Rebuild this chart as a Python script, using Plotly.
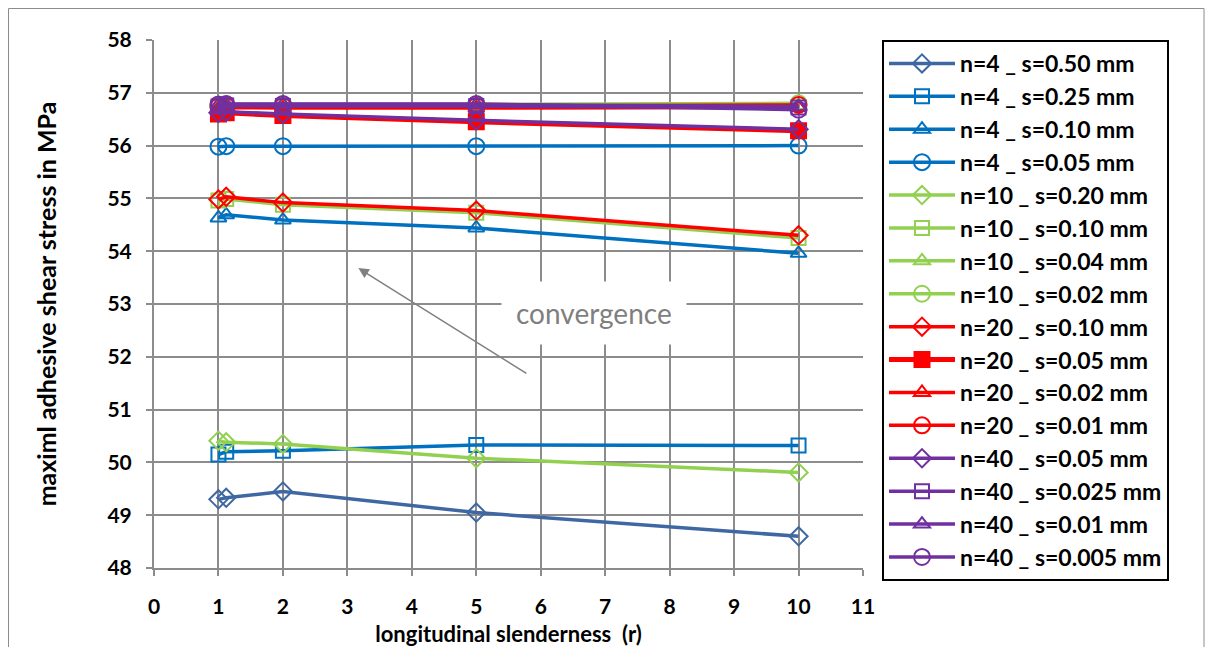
import plotly.graph_objects as go

# ---------------- data ----------------
r_values = [1, 1.12, 2, 5, 10]

series_names = [
    "n=4 _ s=0.50 mm", "n=4 _ s=0.25 mm", "n=4 _ s=0.10 mm", "n=4 _ s=0.05 mm",
    "n=10 _ s=0.20 mm", "n=10 _ s=0.10 mm", "n=10 _ s=0.04 mm", "n=10 _ s=0.02 mm",
    "n=20 _ s=0.10 mm", "n=20 _ s=0.05 mm", "n=20 _ s=0.02 mm", "n=20 _ s=0.01 mm",
    "n=40 _ s=0.05 mm", "n=40 _ s=0.025 mm", "n=40 _ s=0.01 mm", "n=40 _ s=0.005 mm",
]

n4_s050 = [49.30, 49.33, 49.45, 49.05, 48.60]
n4_s025 = [50.15, 50.20, 50.22, 50.33, 50.32]
n4_s010 = [54.63, 54.69, 54.59, 54.44, 53.96]
n4_s005 = [55.98, 55.99, 55.99, 55.99, 56.00]
n10_s020 = [50.41, 50.38, 50.35, 50.08, 49.81]
n10_s010 = [54.96, 54.99, 54.88, 54.73, 54.25]
n10_s004 = [56.73, 56.75, 56.74, 56.74, 56.76]
n10_s002 = [56.77, 56.78, 56.78, 56.78, 56.80]
n20_s010 = [54.98, 55.03, 54.92, 54.77, 54.30]
n20_s005 = [56.60, 56.62, 56.57, 56.45, 56.28]
n20_s002 = [56.70, 56.72, 56.71, 56.71, 56.72]
n20_s001 = [56.74, 56.75, 56.75, 56.75, 56.77]
n40_s005 = [56.62, 56.64, 56.60, 56.48, 56.31]
n40_s0025 = [56.74, 56.76, 56.75, 56.75, 56.72]
n40_s001 = [56.77, 56.78, 56.78, 56.78, 56.74]
n40_s0005 = [56.78, 56.79, 56.79, 56.79, 56.68]

series_values = [
    n4_s050, n4_s025, n4_s010, n4_s005,
    n10_s020, n10_s010, n10_s004, n10_s002,
    n20_s010, n20_s005, n20_s002, n20_s001,
    n40_s005, n40_s0025, n40_s001, n40_s0005,
]

x_ticks = list(range(0, 12))
y_ticks = list(range(48, 59))

# ---------------- styles ----------------
DARKBLUE = "#3F68A3"
BLUE = "#0070C0"
GREEN = "#92D050"
RED = "#FF0000"
PURPLE = "#7030A0"

colors = [DARKBLUE, BLUE, BLUE, BLUE,
          GREEN, GREEN, GREEN, GREEN,
          RED, RED, RED, RED,
          PURPLE, PURPLE, PURPLE, PURPLE]
symbols = ["diamond-open", "square-open", "triangle-up-open", "circle-open"] * 4
symbols[9] = "square"
sizes = [14, 14, 14, 16] * 4
sizes[9] = 15
widths = [3.5] * 16
widths[9] = 5

FONT = "Lato, 'Liberation Sans', sans-serif"
GRID = "#8C8C8C"

# plot area in figure pixels (page has an 8px body margin)
PL, PR, PT, PB = 146, 855, 32, 560
W, H = 1213, 647
PW, PH = PR - PL, PB - PT

fig = go.Figure()
for i, (name, vals) in enumerate(zip(series_names, series_values)):
    fig.add_trace(go.Scatter(
        x=r_values, y=vals, name=name, mode="lines+markers",
        line=dict(color=colors[i], width=widths[i]),
        marker=dict(symbol=symbols[i], size=sizes[i], color=colors[i],
                    line=dict(color=colors[i], width=2)),
    ))

fig.update_layout(
    template="none",
    width=W, height=H,
    margin=dict(l=PL, r=W - PR, t=PT, b=H - PB, autoexpand=False),
    paper_bgcolor="white", plot_bgcolor="white",
    font=dict(family=FONT, size=18, color="black"),
    showlegend=True,
    legend=dict(
        x=1.0 + (874 - PR) / PW, xanchor="left",
        y=1.0, yanchor="top",
        bordercolor="black", borderwidth=2,
        bgcolor="white",
        font=dict(family=FONT, size=23, color="black", weight="bold"),
        traceorder="normal", tracegroupgap=0,
        itemwidth=66,
        maxheight=600,
    ),
    xaxis=dict(
        range=[0, 11], tickvals=x_ticks, ticktext=[str(v) for v in x_ticks],
        showgrid=True, gridcolor=GRID, gridwidth=2,
        showline=True, linecolor=GRID, linewidth=2, mirror=False,
        ticks="outside", tickcolor=GRID, ticklen=6, tickwidth=2,
        ticklabelstandoff=13,
        tickfont=dict(family=FONT, size=21, weight="bold"),
        zeroline=False, automargin=False,
        title=dict(text="longitudinal slenderness\u00a0\u00a0(r)",
                   font=dict(family=FONT, size=22, weight="bold"), standoff=9),
    ),
    yaxis=dict(
        range=[48, 58], tickvals=y_ticks, ticktext=[str(v) for v in y_ticks],
        showgrid=True, gridcolor=GRID, gridwidth=2,
        showline=True, linecolor=GRID, linewidth=2,
        ticks="outside", tickcolor=GRID, ticklen=6, tickwidth=2,
        ticklabelstandoff=10,
        tickfont=dict(family=FONT, size=21, weight="bold"),
        zeroline=False, automargin=False,
        title=dict(text="maximl adhesive shear stress in MPa",
                   font=dict(family=FONT, size=25, weight="bold"), standoff=44),
    ),
)

# outer chart frame
fig.add_shape(type="rect", xref="paper", yref="paper",
              x0=(0.5 - PL) / PW, x1=(1196 - PL) / PW,
              y0=(PB - 700) / PH, y1=(PB - 0.5) / PH,
              line=dict(color=GRID, width=1), fillcolor="rgba(0,0,0,0)", layer="below")

# convergence arrow
fig.add_annotation(x=3.17, y=53.68, ax=5.8, ay=51.67, xref="x", yref="y",
                   axref="x", ayref="y", text="", showarrow=True,
                   arrowhead=2, arrowsize=1.4, arrowwidth=1.5, arrowcolor="#808080")
fig.add_annotation(x=6.83, y=52.83, xref="x", yref="y", text="convergence",
                   showarrow=False, bgcolor="white", borderpad=14,
                   font=dict(family=FONT, size=28, color="#7F7F7F"))

fig.write_html("out.html")
